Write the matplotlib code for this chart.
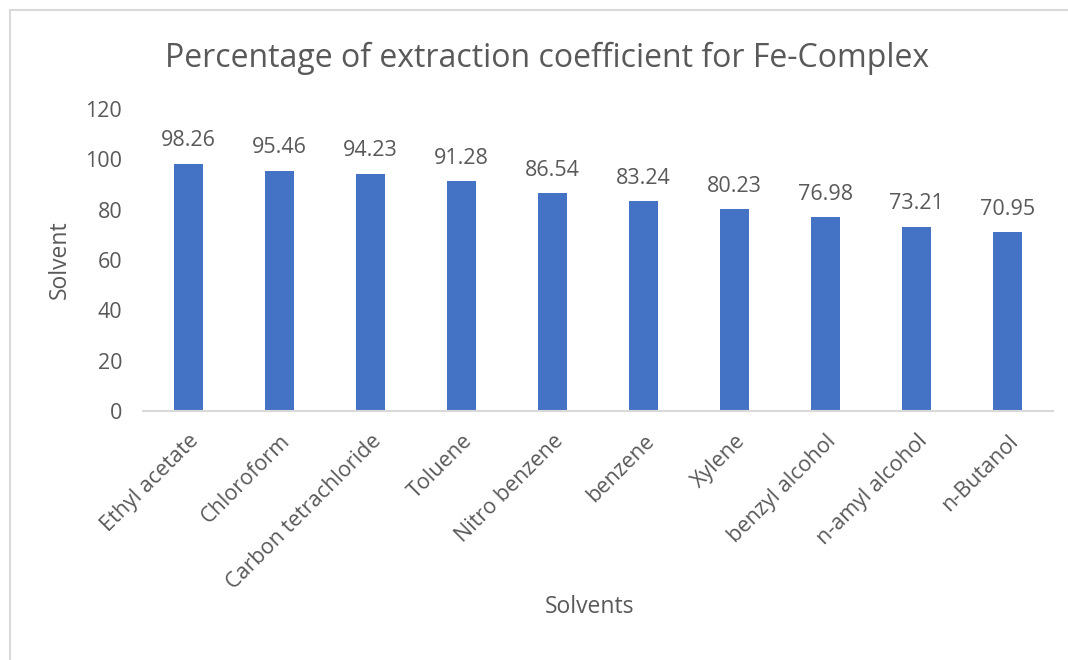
import matplotlib.pyplot as plt
from matplotlib.lines import Line2D

# data
solvents = ["Ethyl acetate", "Chloroform", "Carbon tetrachloride", "Toluene",
            "Nitro benzene", "benzene", "Xylene", "benzyl alcohol",
            "n-amyl alcohol", "n-Butanol"]
extraction = [98.26, 95.46, 94.23, 91.28, 86.54, 83.24, 80.23, 76.98, 73.21, 70.95]

TEXT = "#595959"
BAR = "#4472C4"
plt.rcParams["font.family"] = ["Open Sans", "DejaVu Sans"]

fig = plt.figure(figsize=(10.68, 6.6), dpi=100)
ax = fig.add_axes([0.1339, 0.3773, 0.852, 0.4576])

x = range(len(solvents))
bars = ax.bar(x, extraction, width=0.31, color=BAR)
for b, v in zip(bars, extraction):
    ax.annotate(f"{v:.2f}", (b.get_x() + b.get_width() / 2, v),
                xytext=(0, 9), textcoords="offset points",
                ha="center", va="bottom", fontsize=15.5, color=TEXT)

ax.set_xlim(-0.5, len(solvents) - 0.5)
ax.set_ylim(0, 120)
ax.set_yticks(range(0, 121, 20))
ax.set_xticks(list(x))
ax.set_xticklabels(solvents, rotation=45, ha="right", rotation_mode="anchor")
ax.tick_params(axis="both", length=0, labelsize=15.5, labelcolor=TEXT)
ax.tick_params(axis="y", pad=15)
ax.tick_params(axis="x", pad=14)

for s in ["top", "right", "left"]:
    ax.spines[s].set_visible(False)
ax.spines["bottom"].set_color("#D9D9D9")
ax.spines["bottom"].set_linewidth(1.5)

ax.set_ylabel("Solvent", fontsize=16.5, color=TEXT)
ax.yaxis.set_label_coords(-0.078, 0.5)
ax.set_xlabel("Solvents", fontsize=16.5, color=TEXT)
ax.xaxis.label.set_va("center")
ax.xaxis.set_label_coords(0.491, -0.649)

fig.text(0.5126, 0.912, "Percentage of extraction coefficient for Fe-Complex",
         ha="center", va="center", fontsize=23, color=TEXT)

# outer frame (top and left edges visible)
fig.add_artist(Line2D([0.0094, 0.0094], [0, 0.985], transform=fig.transFigure,
                      color="#D9D9D9", lw=1.5))
fig.add_artist(Line2D([0.0094, 1], [0.985, 0.985], transform=fig.transFigure,
                      color="#D9D9D9", lw=1.5))

fig.savefig("out.png", dpi=100)
